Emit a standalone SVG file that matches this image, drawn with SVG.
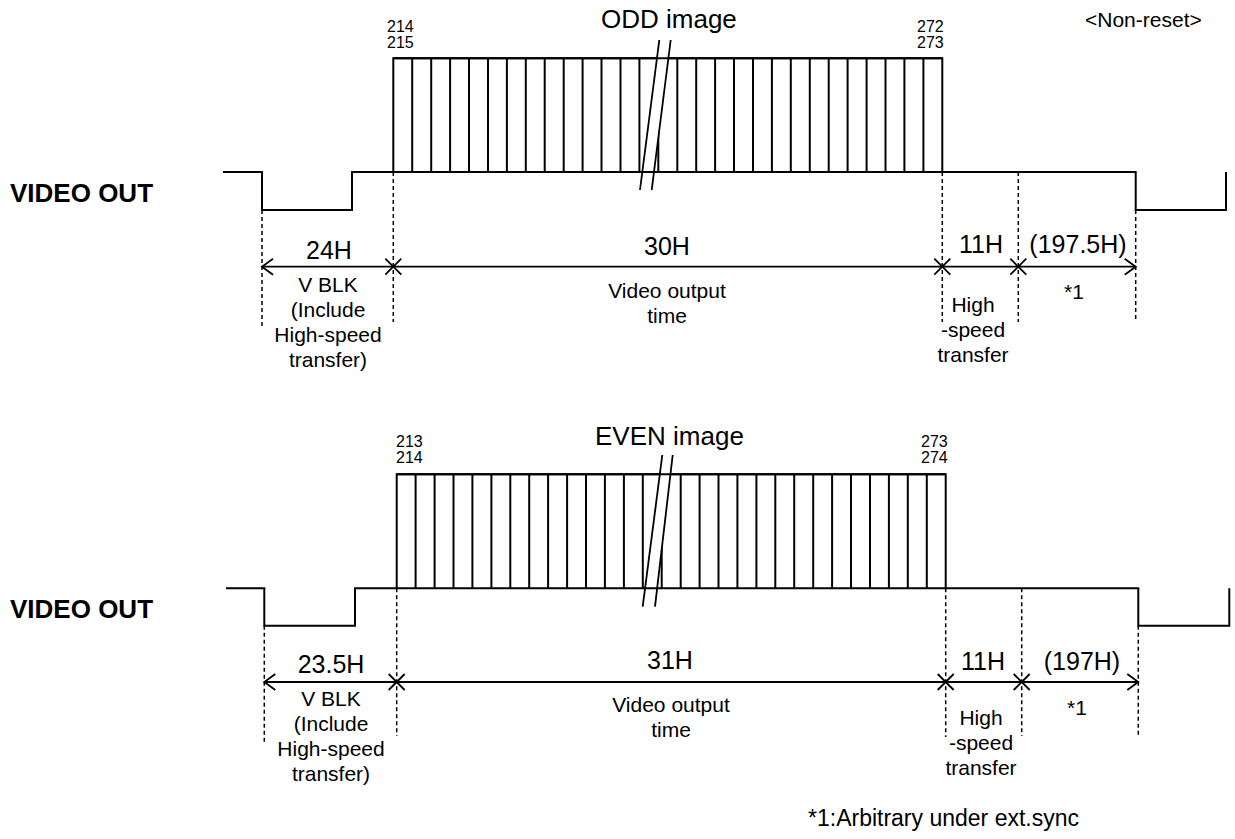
<svg xmlns="http://www.w3.org/2000/svg" width="1235" height="839" viewBox="0 0 1235 839">
<style>
  text { font-family: "Liberation Sans", Arial, sans-serif; fill: #000; }
  .big { font-size: 25px; text-anchor: middle; }
  .lbl { font-size: 21px; text-anchor: middle; }
  .num { font-size: 16px; }
  .title { font-size: 26px; }
  .sig { font-size: 26px; font-weight: bold; }
  .wave { fill: none; stroke: #000; stroke-width: 2; stroke-linejoin: miter; }
  .tick { stroke: #000; stroke-width: 2; }
  .dash { stroke: #000; stroke-width: 1.5; stroke-dasharray: 4 3; fill: none; }
  .dim { stroke: #000; stroke-width: 1.8; fill: none; }
  .brk { fill: #fff; stroke: none; }
  .brkl { stroke: #000; stroke-width: 1.8; }
</style>
<defs>
  <g id="xmark"><line x1="-8" y1="-8" x2="8" y2="8" class="dim"/><line x1="-8" y1="8" x2="8" y2="-8" class="dim"/></g>
</defs>

<!-- ================= ODD (top) ================= -->
<g id="odd-labels">
  <text class="title" x="601" y="28">ODD image</text>
  <text x="1085" y="27" style="font-size:21px">&lt;Non-reset&gt;</text>
  <text class="num" x="387" y="32">214</text>
  <text class="num" x="387" y="48">215</text>
  <text class="num" x="917" y="32">272</text>
  <text class="num" x="917" y="48">273</text>
  <text class="sig" x="10" y="202">VIDEO OUT</text>
</g>
<g id="odd-wave">
  <polyline class="wave" points="223,172 262,172 262,210 352,210 352,172 393.3,172 393.3,58.3 942.3,58.3 942.3,172 1135.7,172 1135.7,210 1226,210 1226,172"/>
  <g class="tick" id="odd-ticks">
    <line x1="412.2" y1="58.3" x2="412.2" y2="172"/>
    <line x1="431.2" y1="58.3" x2="431.2" y2="172"/>
    <line x1="450.1" y1="58.3" x2="450.1" y2="172"/>
    <line x1="469.0" y1="58.3" x2="469.0" y2="172"/>
    <line x1="488.0" y1="58.3" x2="488.0" y2="172"/>
    <line x1="506.9" y1="58.3" x2="506.9" y2="172"/>
    <line x1="525.8" y1="58.3" x2="525.8" y2="172"/>
    <line x1="544.7" y1="58.3" x2="544.7" y2="172"/>
    <line x1="563.7" y1="58.3" x2="563.7" y2="172"/>
    <line x1="582.6" y1="58.3" x2="582.6" y2="172"/>
    <line x1="601.5" y1="58.3" x2="601.5" y2="172"/>
    <line x1="620.5" y1="58.3" x2="620.5" y2="172"/>
    <line x1="639.4" y1="58.3" x2="639.4" y2="172"/>
    <line x1="658.3" y1="58.3" x2="658.3" y2="172"/>
    <line x1="677.3" y1="58.3" x2="677.3" y2="172"/>
    <line x1="696.2" y1="58.3" x2="696.2" y2="172"/>
    <line x1="715.1" y1="58.3" x2="715.1" y2="172"/>
    <line x1="734.0" y1="58.3" x2="734.0" y2="172"/>
    <line x1="753.0" y1="58.3" x2="753.0" y2="172"/>
    <line x1="771.9" y1="58.3" x2="771.9" y2="172"/>
    <line x1="790.8" y1="58.3" x2="790.8" y2="172"/>
    <line x1="809.8" y1="58.3" x2="809.8" y2="172"/>
    <line x1="828.7" y1="58.3" x2="828.7" y2="172"/>
    <line x1="847.6" y1="58.3" x2="847.6" y2="172"/>
    <line x1="866.6" y1="58.3" x2="866.6" y2="172"/>
    <line x1="885.5" y1="58.3" x2="885.5" y2="172"/>
    <line x1="904.4" y1="58.3" x2="904.4" y2="172"/>
    <line x1="923.4" y1="58.3" x2="923.4" y2="172"/>
  </g>
  <polygon class="brk" points="659.3,40 670.7,40 651.7,190 640,190"/>
  <line class="tick" x1="393.3" y1="58.3" x2="942.3" y2="58.3"/>
  <line class="tick" x1="393.3" y1="172" x2="942.3" y2="172"/>
  <line class="brkl" x1="659.3" y1="40" x2="640" y2="190"/>
  <line class="brkl" x1="670.7" y1="40" x2="651.7" y2="190"/>
</g>
<g id="odd-dims">
  <line class="dash" x1="262" y1="210" x2="262" y2="328"/>
  <line class="dash" x1="393.3" y1="172" x2="393.3" y2="322"/>
  <line class="dash" x1="942.3" y1="172" x2="942.3" y2="322"/>
  <line class="dash" x1="1018.3" y1="172" x2="1018.3" y2="322"/>
  <line class="dash" x1="1135.7" y1="210" x2="1135.7" y2="320"/>
  <line class="dim" x1="262" y1="266.7" x2="1135.7" y2="266.7"/>
  <polyline class="dim" points="273,258.7 262,266.7 273,274.7"/>
  <polyline class="dim" points="1124.7,258.7 1135.7,266.7 1124.7,274.7"/>
  <use href="#xmark" x="393.3" y="266.7"/>
  <use href="#xmark" x="942.3" y="266.7"/>
  <use href="#xmark" x="1018.3" y="266.7"/>
</g>
<g id="odd-text">
  <text class="big" x="329" y="259">24H</text>
  <text class="big" x="667" y="255">30H</text>
  <text class="big" x="981" y="253">11H</text>
  <text class="big" x="1078" y="253">(197.5H)</text>
  <text class="lbl" x="328" y="292">V BLK</text>
  <text class="lbl" x="328" y="317">(Include</text>
  <text class="lbl" x="328" y="342">High-speed</text>
  <text class="lbl" x="328" y="367">transfer)</text>
  <text class="lbl" x="667" y="298">Video output</text>
  <text class="lbl" x="667" y="323">time</text>
  <text class="lbl" x="973" y="312">High</text>
  <text class="lbl" x="973" y="337">-speed</text>
  <text class="lbl" x="973" y="362">transfer</text>
  <text class="lbl" x="1074" y="299">*1</text>
</g>

<!-- ================= EVEN (bottom) ================= -->
<g id="even-labels">
  <text class="title" x="595" y="445">EVEN image</text>
  <text class="num" x="396" y="447">213</text>
  <text class="num" x="396" y="463">214</text>
  <text class="num" x="921" y="447">273</text>
  <text class="num" x="921" y="463">274</text>
  <text class="sig" x="10" y="618">VIDEO OUT</text>
</g>
<g id="even-wave">
  <polyline class="wave" points="226,588.3 264.3,588.3 264.3,625.7 355,625.7 355,588.3 396.7,588.3 396.7,474.3 945.7,474.3 945.7,588.3 1138.3,588.3 1138.3,625.7 1229.3,625.7 1229.3,588.3"/>
  <g class="tick" id="even-ticks">
    <line x1="415.6" y1="474.3" x2="415.6" y2="588.3"/>
    <line x1="434.6" y1="474.3" x2="434.6" y2="588.3"/>
    <line x1="453.5" y1="474.3" x2="453.5" y2="588.3"/>
    <line x1="472.4" y1="474.3" x2="472.4" y2="588.3"/>
    <line x1="491.4" y1="474.3" x2="491.4" y2="588.3"/>
    <line x1="510.3" y1="474.3" x2="510.3" y2="588.3"/>
    <line x1="529.2" y1="474.3" x2="529.2" y2="588.3"/>
    <line x1="548.1" y1="474.3" x2="548.1" y2="588.3"/>
    <line x1="567.1" y1="474.3" x2="567.1" y2="588.3"/>
    <line x1="586.0" y1="474.3" x2="586.0" y2="588.3"/>
    <line x1="604.9" y1="474.3" x2="604.9" y2="588.3"/>
    <line x1="623.9" y1="474.3" x2="623.9" y2="588.3"/>
    <line x1="642.8" y1="474.3" x2="642.8" y2="588.3"/>
    <line x1="661.7" y1="474.3" x2="661.7" y2="588.3"/>
    <line x1="680.7" y1="474.3" x2="680.7" y2="588.3"/>
    <line x1="699.6" y1="474.3" x2="699.6" y2="588.3"/>
    <line x1="718.5" y1="474.3" x2="718.5" y2="588.3"/>
    <line x1="737.4" y1="474.3" x2="737.4" y2="588.3"/>
    <line x1="756.4" y1="474.3" x2="756.4" y2="588.3"/>
    <line x1="775.3" y1="474.3" x2="775.3" y2="588.3"/>
    <line x1="794.2" y1="474.3" x2="794.2" y2="588.3"/>
    <line x1="813.2" y1="474.3" x2="813.2" y2="588.3"/>
    <line x1="832.1" y1="474.3" x2="832.1" y2="588.3"/>
    <line x1="851.0" y1="474.3" x2="851.0" y2="588.3"/>
    <line x1="870.0" y1="474.3" x2="870.0" y2="588.3"/>
    <line x1="888.9" y1="474.3" x2="888.9" y2="588.3"/>
    <line x1="907.8" y1="474.3" x2="907.8" y2="588.3"/>
    <line x1="926.8" y1="474.3" x2="926.8" y2="588.3"/>
  </g>
  <polygon class="brk" points="662.3,455 672.7,455 655,606.7 642.7,606.7"/>
  <line class="tick" x1="396.7" y1="474.3" x2="945.7" y2="474.3"/>
  <line class="tick" x1="396.7" y1="588.3" x2="945.7" y2="588.3"/>
  <line class="brkl" x1="662.3" y1="455" x2="642.7" y2="606.7"/>
  <line class="brkl" x1="672.7" y1="455" x2="655" y2="606.7"/>
</g>
<g id="even-dims">
  <line class="dash" x1="264.3" y1="625.7" x2="264.3" y2="742"/>
  <line class="dash" x1="396.7" y1="588.3" x2="396.7" y2="736"/>
  <line class="dash" x1="945.7" y1="588.3" x2="945.7" y2="737"/>
  <line class="dash" x1="1021.7" y1="588.3" x2="1021.7" y2="736"/>
  <line class="dash" x1="1138.3" y1="625.7" x2="1138.3" y2="735"/>
  <line class="dim" x1="264.3" y1="682" x2="1138.3" y2="682"/>
  <polyline class="dim" points="275.3,674 264.3,682 275.3,690"/>
  <polyline class="dim" points="1127.3,674 1138.3,682 1127.3,690"/>
  <use href="#xmark" x="396.7" y="682"/>
  <use href="#xmark" x="945.7" y="682"/>
  <use href="#xmark" x="1021.7" y="682"/>
</g>
<g id="even-text">
  <text class="big" x="331" y="673">23.5H</text>
  <text class="big" x="670" y="669">31H</text>
  <text class="big" x="983" y="670">11H</text>
  <text class="big" x="1082" y="670">(197H)</text>
  <text class="lbl" x="331" y="706">V BLK</text>
  <text class="lbl" x="331" y="731">(Include</text>
  <text class="lbl" x="331" y="756">High-speed</text>
  <text class="lbl" x="331" y="781">transfer)</text>
  <text class="lbl" x="671" y="712">Video output</text>
  <text class="lbl" x="671" y="737">time</text>
  <text class="lbl" x="981" y="725">High</text>
  <text class="lbl" x="981" y="750">-speed</text>
  <text class="lbl" x="981" y="775">transfer</text>
  <text class="lbl" x="1077" y="715">*1</text>
</g>

<g id="footnote">
  <text x="808" y="826" style="font-size:23px">*1:Arbitrary under ext.sync</text>
</g>
</svg>
